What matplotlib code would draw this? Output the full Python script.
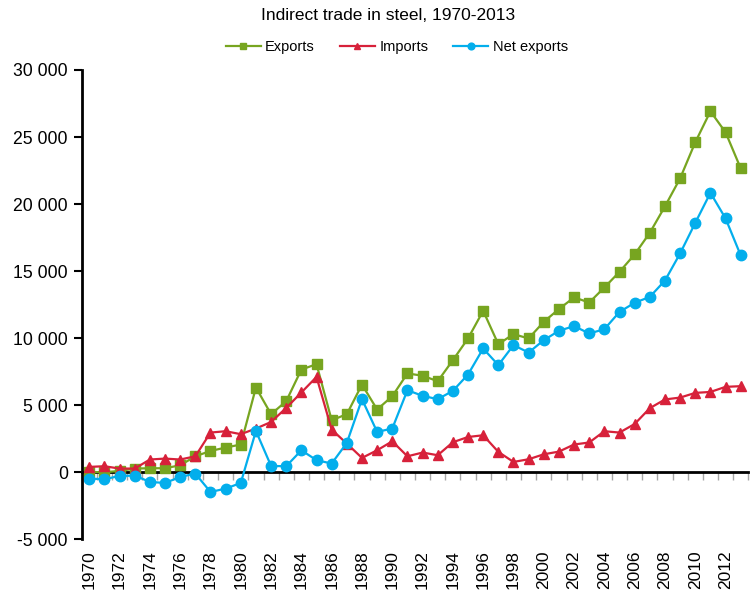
import numpy as np
import matplotlib
matplotlib.use("Agg")
import matplotlib.pyplot as plt
from matplotlib.ticker import FuncFormatter

plt.rcParams['font.family'] = ['Liberation Sans', 'DejaVu Sans']

years = list(range(1970, 2014))
exports = [20, 0, 100, 275, 300, 300, 520, 1190, 1590, 1840, 2070,
           6320, 4330, 5300, 7660, 8060, 3880, 4330, 6540, 4680, 5670,
           7370, 7200, 6790, 8360, 9980, 12040, 9550, 10300, 9980, 11220,
           12170, 13040, 12660, 13780, 14950, 16250, 17860, 19830, 21920, 24610,
           26920, 25350, 22660]
imports = [400, 450, 275, 275, 950, 1020, 950, 1190, 2960, 3060, 2840,
           3260, 3750, 4800, 5950, 7110, 3180, 2140, 1070, 1640, 2310,
           1190, 1470, 1270, 2240, 2630, 2760, 1520, 770, 970, 1340,
           1540, 2070, 2220, 3060, 2960, 3600, 4780, 5430, 5570, 5920,
           5990, 6370, 6420]
net_exports = [-470, -520, -275, -250, -720, -800, -350, -100, -1470, -1220, -800,
               3080, 470, 450, 1640, 900, 650, 2190, 5450, 3010, 3260,
               6120, 5700, 5450, 6070, 7290, 9230, 7990, 9480, 8930, 9850,
               10550, 10900, 10350, 10670, 11960, 12640, 13080, 14300, 16320, 18600,
               20840, 18930, 16170]
title = "Indirect trade in steel, 1970-2013"
series_names = ["Exports", "Imports", "Net exports"]

GREEN = "#77A520"
RED = "#D7213A"
BLUE = "#03AEEC"

fig = plt.figure(figsize=(7.5, 5.92), dpi=100)
ax = fig.add_axes([81.7/750, 1-539.3/592, (748.3-81.7)/750, (539.3-70)/592])

ax.plot(years, exports, color=GREEN, marker='s', markersize=7, linewidth=1.6, label=series_names[0])
ax.plot(years, imports, color=RED, marker='^', markersize=7.5, linewidth=1.6, label=series_names[1])
ax.plot(years, net_exports, color=BLUE, marker='o', markersize=7.5, linewidth=1.6, label=series_names[2])

ymin, ymax = -5000, 30000
ax.set_ylim(ymin, ymax)
ax.set_xlim(years[0]-0.5, years[-1]+0.5)
ax.set_yticks(np.arange(-5000, 30001, 5000))
ax.yaxis.set_major_formatter(FuncFormatter(lambda v, p: f"{int(v):,}".replace(",", " ")))
ax.tick_params(axis='y', direction='out', length=6, width=1.5, labelsize=12.7, pad=4, colors='black')

for s in ['top', 'right', 'bottom']:
    ax.spines[s].set_visible(False)
ax.spines['left'].set_linewidth(2)
ax.spines['left'].set_color('black')

ax.set_xticks(years[::2])
ax.set_xticklabels([str(y) for y in years[::2]], rotation=90)
ax.tick_params(axis='x', length=0, labelsize=12.5, pad=8)

zero_frac = (0 - ymin) / (ymax - ymin)
sec = ax.secondary_xaxis(zero_frac)
sec.set_xticks(np.arange(years[0]-0.5, years[-1]+1, 1.0))
sec.tick_params(axis='x', direction='out', length=6, width=1, color='#A6A6A6', labelbottom=False)
sec.spines['bottom'].set_linewidth(2)
sec.spines['bottom'].set_color('black')

fig.text(0.518, 1-15/592, title, ha='center', va='center', fontsize=12.5)
fig.legend(loc='center', bbox_to_anchor=(0.529, 1-47/592), ncol=3, frameon=False,
           fontsize=10.5, handlelength=2.4, markerscale=0.65, columnspacing=1.72, handletextpad=0.3)

fig.savefig("out.png", dpi=100)
